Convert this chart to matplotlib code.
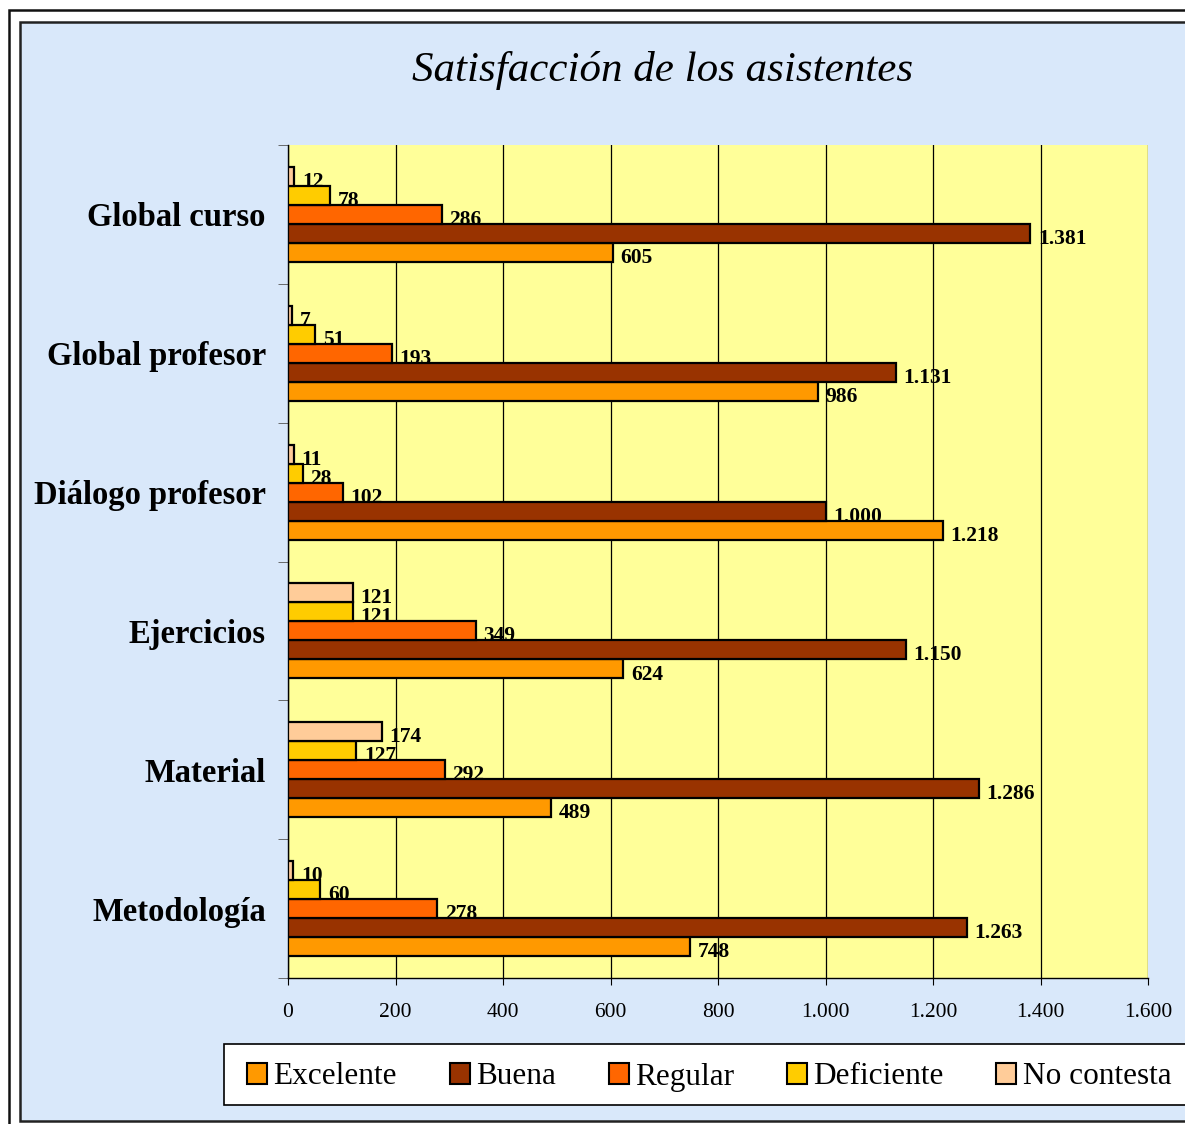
import matplotlib.pyplot as plt
import numpy as np
from matplotlib.patches import Rectangle, Patch
from matplotlib.ticker import FuncFormatter, FixedLocator

plt.rcParams['font.family'] = ['Liberation Serif', 'DejaVu Serif']

# === Data (top to bottom) ===
categories = ["Global curso", "Global profesor", "Diálogo profesor",
              "Ejercicios", "Material", "Metodología"]
series = ["Excelente", "Buena", "Regular", "Deficiente", "No contesta"]
excelente = [605, 986, 1218, 624, 489, 748]
buena = [1381, 1131, 1000, 1150, 1286, 1263]
regular = [286, 193, 102, 349, 292, 278]
deficiente = [78, 51, 28, 121, 127, 60]
no_contesta = [12, 7, 11, 121, 174, 10]
xticks = [0, 200, 400, 600, 800, 1000, 1200, 1400, 1600]

values = [excelente, buena, regular, deficiente, no_contesta]
colors = ["#FF9900", "#993300", "#FF6600", "#FFCC00", "#FFCC99"]

W, H = 1185, 1124
fig = plt.figure(figsize=(W / 100, H / 100), dpi=100)
fig.patch.set_facecolor("white")

# outer frame + blue panel
fig.patches.append(Rectangle((9 / W, -0.05), 1.1, 1 - 10 / H + 0.05, transform=fig.transFigure,
                             facecolor="white", edgecolor="#111111", lw=1.8, zorder=-2))
fig.patches.append(Rectangle((20 / W, 1 - 1121 / H), 1.1, (1121 - 22) / H, transform=fig.transFigure,
                             facecolor="#D9E8FA", edgecolor="#222222", lw=1.8, zorder=-1))
# legend box
fig.patches.append(Rectangle((224 / W, 1 - 1105 / H), 1.0, 61 / H, transform=fig.transFigure,
                             facecolor="white", edgecolor="black", lw=1.2, zorder=-0.5))

ax = fig.add_axes([288 / W, 1 - 978 / H, (1148 - 288) / W, (978 - 145) / H])
ax.set_facecolor("#FFFF99")

n = len(categories)
ypos = np.arange(n)[::-1]  # top category highest
bh = 0.137
for i, (name, vals, col) in enumerate(zip(series, values, colors)):
    off = (i - 2) * bh  # Excelente bottom, No contesta top
    yy = ypos + off
    ax.barh(yy, vals, height=bh, color=col, edgecolor="black", linewidth=1.6,
            label=name, zorder=3)
    for y, v in zip(yy, vals):
        txt = f"{v:,}".replace(",", ".")
        ax.text(v + 14, y - 0.04, txt, ha="left", va="center", fontsize=15.5,
                fontweight="bold", zorder=4)

ax.set_xlim(0, 1600)
ax.set_ylim(-0.5, n - 0.5)
ax.xaxis.set_major_locator(FixedLocator(xticks))
ax.xaxis.set_major_formatter(FuncFormatter(lambda v, p: f"{int(v):,}".replace(",", ".")))
ax.tick_params(axis="x", labelsize=15.5, length=5, direction="out", pad=13)
ax.grid(axis="x", color="black", lw=0.9, zorder=1)

ax.set_yticks(ypos)
ax.set_yticklabels(categories, fontsize=23.5, fontweight="bold")
ax.tick_params(axis="y", length=0, pad=16)
ax.set_yticks(np.arange(n + 1) - 0.5, minor=True)
ax.tick_params(axis="y", which="minor", length=7, color="#555555")

for s in ["top", "right"]:
    ax.spines[s].set_visible(False)
ax.spines["left"].set_color("black")
ax.spines["bottom"].set_color("black")
ax.spines["left"].set_linewidth(1.0)
ax.spines["bottom"].set_linewidth(1.0)

fig.text(663 / W, 1 - 70 / H, "Satisfacción de los asistentes", ha="center", va="center",
         fontsize=31, style="italic")

handles = [Patch(facecolor=c, edgecolor="black", lw=1.5) for c in colors]
leg = fig.legend(handles, series, loc="center left", ncol=5,
                 bbox_to_anchor=(247 / W, 1 - 1077 / H),
                 borderaxespad=0, borderpad=0, fontsize=22.5, frameon=False,
                 handlelength=0.65, handleheight=0.65, handletextpad=0.2,
                 columnspacing=1.68)

fig.savefig("out.png", dpi=100)
